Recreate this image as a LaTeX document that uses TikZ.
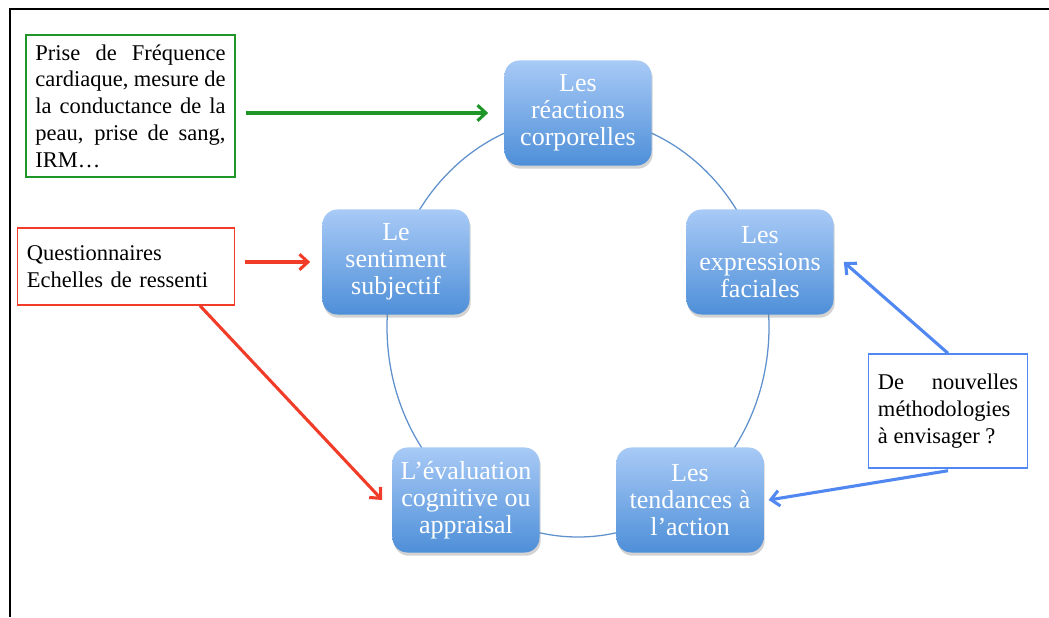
\documentclass[tikz,border=0pt]{standalone}
\usepackage{fontspec}
\setmainfont{Liberation Serif}
\usetikzlibrary{arrows, arrows.meta, shadows}
\definecolor{boxtop}{RGB}{168,202,246}
\definecolor{boxbottom}{RGB}{78,143,216}
\definecolor{ringline}{RGB}{95,145,205}
\definecolor{mygreen}{RGB}{30,150,40}
\definecolor{myred}{RGB}{240,60,40}
\definecolor{myblue}{RGB}{80,135,240}
\tikzstyle{stage} = [
    rectangle, rounded corners=0.375cm,
    minimum width=3.675cm, minimum height=2.625cm,
    align=center, text=white,
    top color=boxtop, bottom color=boxbottom, draw=none,
    drop shadow={opacity=0.35, shadow xshift=0.03cm, shadow yshift=-0.08cm},
    font=\fontsize{18.5}{19.2}\selectfont
]
\tikzstyle{note} = [
    rectangle, line width=1pt,
    inner xsep=0.24cm, inner ysep=0.1cm,
    align=justify,
    font=\fontsize{16}{19}\selectfont
]
\tikzstyle{ring} = [ringline, line width=0.9pt]
\tikzstyle{arrow} = [line width=2.2pt,->,>={Straight Barb[length=6pt,width=11pt]}]

\begin{document}
\begin{tikzpicture}[x=0.025cm, y=-0.025cm]
        \useasboundingbox (0,0) rectangle (1049,617);
        % Frame
        \draw [line width=1.6pt] (10,617) -- (10,9) -- (1049,9);
        \draw [ring] (578,327) ellipse [x radius=191, y radius=210];

        % Draw blocks
        \node (corps) [stage] at (578,113) {Les\\réactions\\corporelles};
        \node (visage) [stage] at (760,262) {Les\\expressions\\faciales};
        \node (action) [stage] at (690,500) {Les\\tendances à\\l’action};
        \node (evalu) [stage] at (466,500) {L’évaluation\\cognitive ou\\appraisal};
        \node (senti) [stage] at (396,262) {Le\\sentiment\\subjectif};

        % Draw notes
        \node (mesures) [note, draw=mygreen, text width=4.75cm, minimum height=3.55cm] at (130.5,106)
            {Prise de Fréquence\linebreak cardiaque, mesure de\linebreak la conductance de la\linebreak peau, prise de sang,\linebreak IRM…};
        \node (quest) [note, draw=myred, text width=4.95cm, minimum height=1.925cm, align=left] at (126,266.5)
            {Questionnaires\\Echelles de ressenti};
        \node (nouv) [note, draw=myblue, text width=3.5cm, minimum height=2.85cm] at (948,411)
            {De nouvelles\linebreak méthodologies\\à envisager ?};

        % Draw arrows
        \coordinate (g1) at ([xshift=0.25cm]mesures.east |- corps);
        \coordinate (r1) at ([xshift=0.25cm]quest.east |- senti);
        \coordinate (r2) at (quest.south -| 200,0);
        \draw [arrow, mygreen] (g1) -- ([xshift=-0.4cm]corps.west);
        \draw [arrow, myred] (r1) -- ([xshift=-0.3cm]senti.west);
        \draw [arrow, myred] (r2) -- ([xshift=-0.25cm]evalu.west);
        \draw [arrow, myblue] (nouv.north) -- ([xshift=0.25cm]visage.east);
        \draw [arrow, myblue] ([yshift=-0.05cm]nouv.south) -- ([xshift=0.12cm]action.east);
    \end{tikzpicture}
\end{document}
